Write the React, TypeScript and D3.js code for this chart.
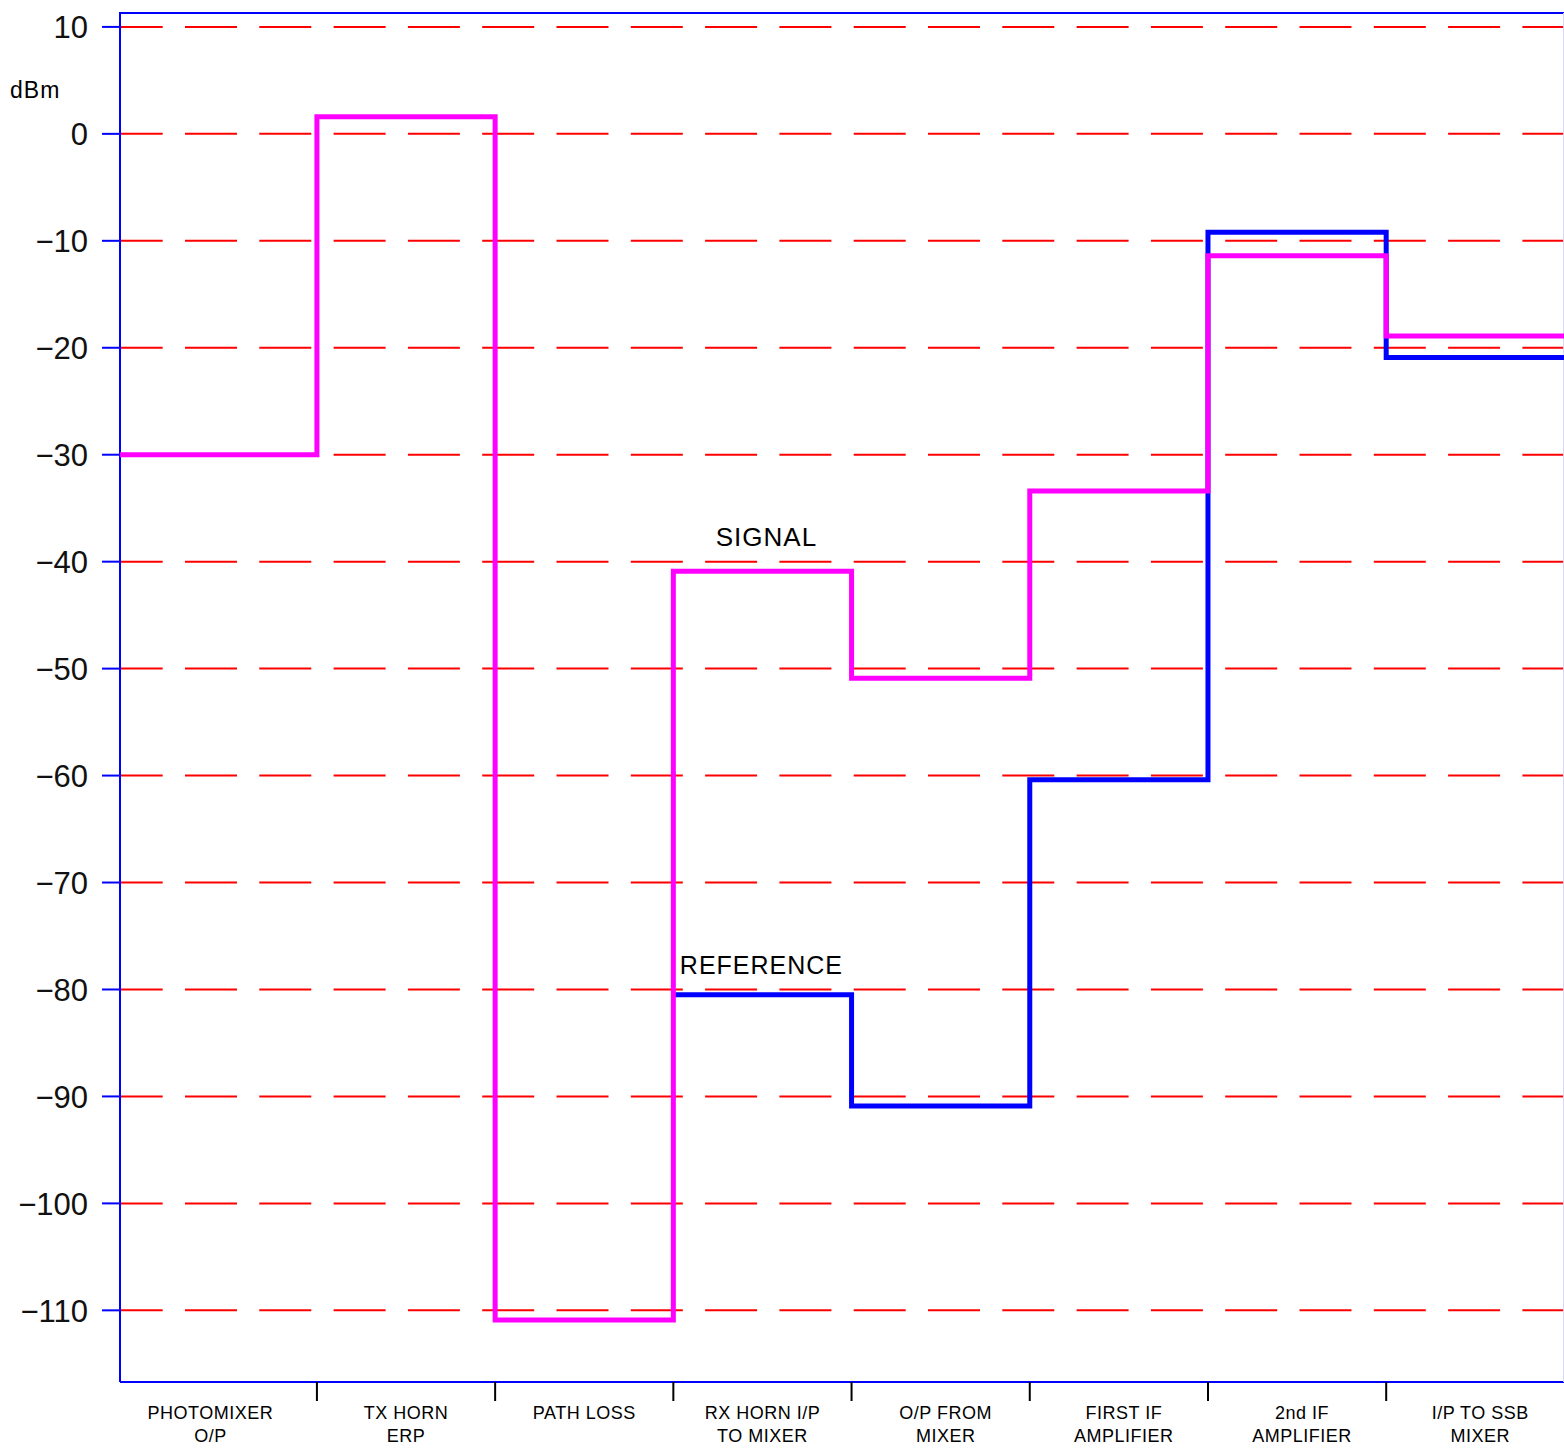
import * as d3 from "d3";
import React, { useEffect, useRef } from "react";

// stages along the link budget
const stages = [
  ["PHOTOMIXER", "O/P"],
  ["TX HORN", "ERP"],
  ["PATH LOSS", ""],
  ["RX HORN I/P", "TO MIXER"],
  ["O/P FROM", "MIXER"],
  ["FIRST IF", "AMPLIFIER"],
  ["2nd IF", "AMPLIFIER"],
  ["I/P TO SSB", "MIXER"],
];

// power level (dBm) at each stage
const signal = [-30, 1.6, -110.9, -40.9, -50.9, -33.4, -11.4, -18.9];
const reference = [null, null, null, -80.5, -90.9, -60.4, -9.2, -20.9];

const yTicks = [10, 0, -10, -20, -30, -40, -50, -60, -70, -80, -90, -100, -110];

const App = () => {
  const svgRef = useRef<SVGSVGElement>(null);

  useEffect(() => {
    const width = 1564;
    const height = 1448;
    const left = 120;
    const right = 1564.4;
    const top = 13;
    const bottom = 1382;

    const svg = d3.select(svgRef.current).attr("width", width).attr("height", height);
    svg.selectAll("*").remove();

    const xMin = -0.105;
    const x = d3.scaleLinear().domain([xMin, 8]).range([left, right]);
    const y = d3.scaleLinear().domain([-116.7, 11.3]).range([bottom, top]);
    const start = (i: number) => (i === 0 ? xMin : i);

    const g = svg.append("g");

    // dashed red grid
    g.selectAll(".grid")
      .data(yTicks)
      .join("line")
      .attr("x1", left)
      .attr("x2", width)
      .attr("y1", (d) => y(d))
      .attr("y2", (d) => y(d))
      .attr("stroke", "#ff0000")
      .attr("stroke-width", 2)
      .attr("stroke-dasharray", "52 22.3")
      .attr("stroke-dashoffset", 9.3);

    // frame
    g.append("path")
      .attr("d", `M${left},${bottom}V${top}H${width}`)
      .attr("fill", "none")
      .attr("stroke", "#0000ff")
      .attr("stroke-width", 2);
    g.append("line")
      .attr("x1", left)
      .attr("x2", width)
      .attr("y1", bottom)
      .attr("y2", bottom)
      .attr("stroke", "#0000ff")
      .attr("stroke-width", 2);
    g.append("line")
      .attr("x1", 1563.5)
      .attr("x2", 1563.5)
      .attr("y1", top)
      .attr("y2", bottom)
      .attr("stroke", "#d8d8ff")
      .attr("stroke-width", 1);

    // y ticks
    g.selectAll(".ytick")
      .data(yTicks)
      .join("line")
      .attr("x1", 102)
      .attr("x2", left)
      .attr("y1", (d) => y(d))
      .attr("y2", (d) => y(d))
      .attr("stroke", "#0000ff")
      .attr("stroke-width", 2);

    g.selectAll(".ylab")
      .data(yTicks)
      .join("text")
      .attr("x", 88)
      .attr("y", (d) => y(d))
      .attr("dy", "0.36em")
      .attr("text-anchor", "end")
      .attr("font-family", "Liberation Sans, sans-serif")
      .attr("font-size", 31)
      .attr("fill", "#111")
      .text((d) => (d < 0 ? "\u2212" + Math.abs(d) : String(d)));

    g.append("text")
      .attr("x", 10)
      .attr("y", 98)
      .attr("font-family", "Liberation Sans, sans-serif")
      .attr("font-size", 23)
      .attr("letter-spacing", 1)
      .text("dBm");

    // x ticks at stage boundaries
    g.selectAll(".xtick")
      .data(d3.range(1, 8))
      .join("line")
      .attr("x1", (d) => x(d))
      .attr("x2", (d) => x(d))
      .attr("y1", bottom)
      .attr("y2", bottom + 19)
      .attr("stroke", "#000")
      .attr("stroke-width", 2);

    const cx = (i: number) => (x(start(i)) + x(i + 1)) / 2 + (i === 0 ? -8 : i >= 4 ? 5 : 0);
    const labels = g
      .selectAll(".xlab")
      .data(stages)
      .join("text")
      .attr("text-anchor", "middle")
      .attr("font-family", "Liberation Sans, sans-serif")
      .attr("font-size", 18)
      .attr("letter-spacing", 0.5)
      .attr("fill", "#000");
    labels
      .append("tspan")
      .attr("x", (d, i) => cx(i))
      .attr("y", 1419)
      .text((d) => d[0]);
    labels
      .append("tspan")
      .attr("x", (d, i) => cx(i))
      .attr("y", 1442)
      .text((d) => d[1]);

    // step lines
    const step = d3
      .line<[number, number | null]>()
      .defined((d) => d[1] !== null)
      .x((d) => x(d[0]))
      .y((d) => y(d[1] as number))
      .curve(d3.curveStepAfter);

    const pts = (vals: (number | null)[]) => {
      const p: [number, number | null][] = vals.map((v, i) => [start(i), v]);
      p.push([8, vals[vals.length - 1]]);
      return p;
    };

    g.append("path")
      .datum(pts(reference))
      .attr("fill", "none")
      .attr("stroke", "#0000ff")
      .attr("stroke-width", 5)
      .attr("d", step);

    g.append("path")
      .datum(pts(signal))
      .attr("fill", "none")
      .attr("stroke", "#ff00ff")
      .attr("stroke-width", 5)
      .attr("d", step);

    // series labels
    g.append("text")
      .attr("x", (x(3) + x(4)) / 2 + 4)
      .attr("y", y(signal[3]) - 25)
      .attr("text-anchor", "middle")
      .attr("font-family", "Liberation Sans, sans-serif")
      .attr("font-size", 26)
      .attr("letter-spacing", 1)
      .text("SIGNAL");

    g.append("text")
      .attr("x", (x(3) + x(4)) / 2 - 1)
      .attr("y", y(reference[3] as number) - 21)
      .attr("text-anchor", "middle")
      .attr("font-family", "Liberation Sans, sans-serif")
      .attr("font-size", 25)
      .attr("letter-spacing", 1)
      .text("REFERENCE");
  }, []);

  return (
    <div style={{ position: "absolute", left: 0, top: 0 }}>
      <svg ref={svgRef}></svg>
    </div>
  );
};

export default App;
